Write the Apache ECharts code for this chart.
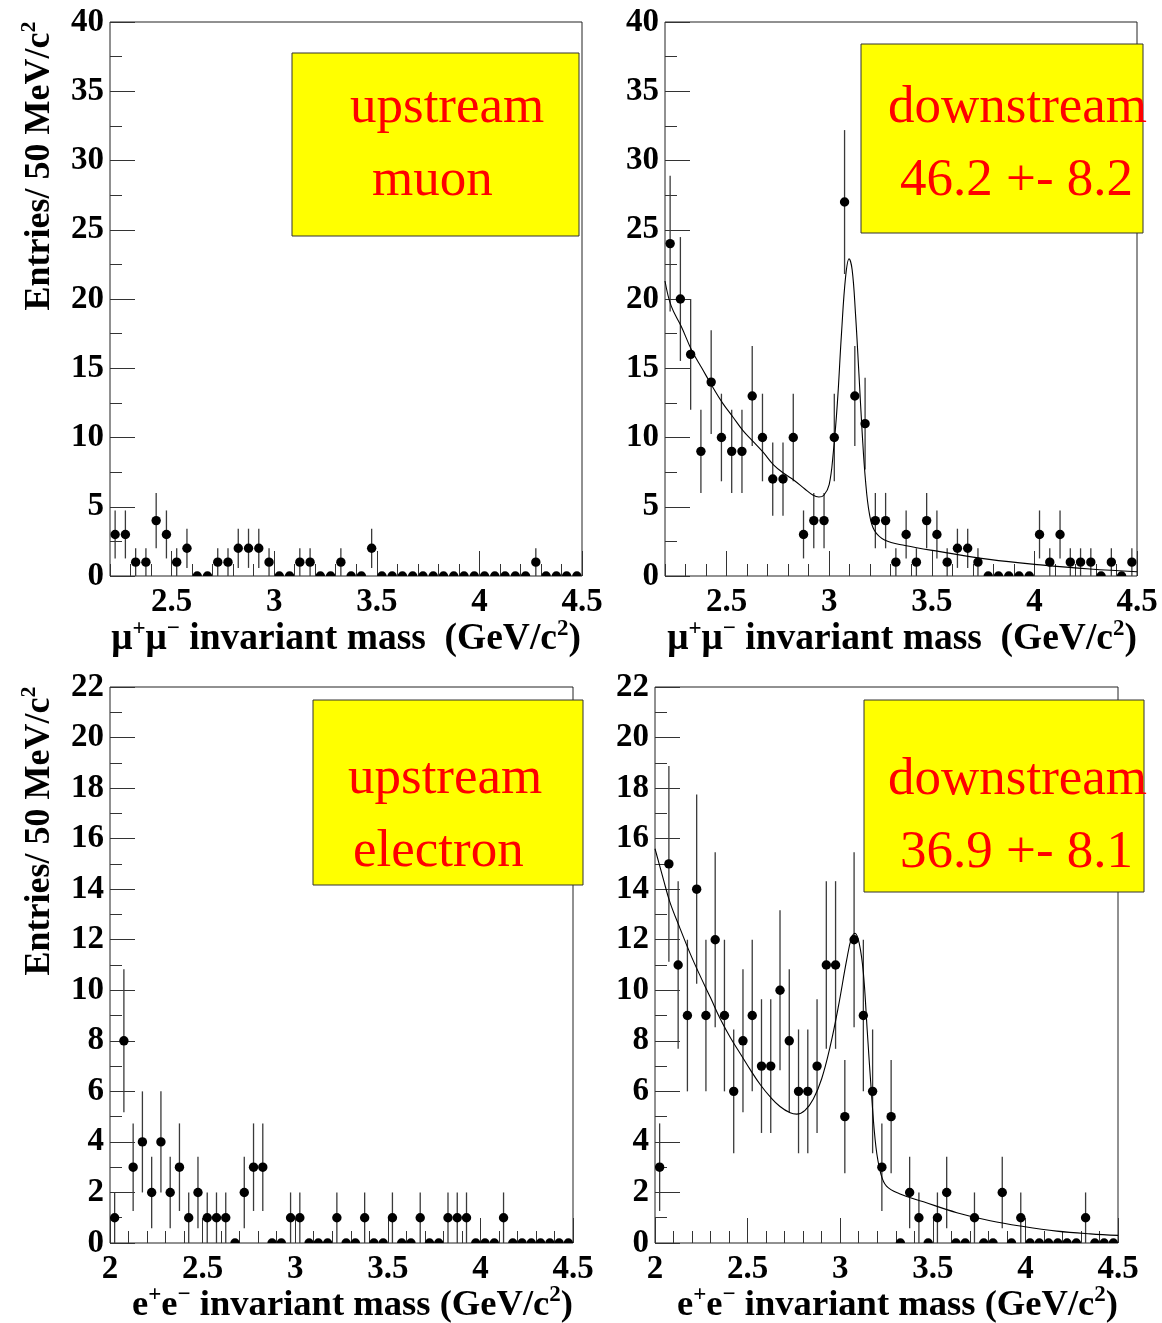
<!DOCTYPE html>
<html>
<head>
<meta charset="utf-8">
<script src="https://cdn.jsdelivr.net/npm/echarts@6/dist/echarts.min.js"></script>
<style>
  html, body { margin: 0; padding: 0; background: #ffffff; }
  #chart { width: 1162px; height: 1323px; }
</style>
</head>
<body>
<div id="chart"></div>
<script>
// Bin centres, 50 MeV/c^2 bins
const muMass = [2.225, 2.275, 2.325, 2.375, 2.425, 2.475, 2.525, 2.575, 2.625, 2.675,
                2.725, 2.775, 2.825, 2.875, 2.925, 2.975, 3.025, 3.075, 3.125, 3.175,
                3.225, 3.275, 3.325, 3.375, 3.425, 3.475, 3.525, 3.575, 3.625, 3.675,
                3.725, 3.775, 3.825, 3.875, 3.925, 3.975, 4.025, 4.075, 4.125, 4.175,
                4.225, 4.275, 4.325, 4.375, 4.425, 4.475];
const eeMass = [2.025, 2.075, 2.125, 2.175, 2.225, 2.275, 2.325, 2.375, 2.425, 2.475,
                2.525, 2.575, 2.625, 2.675, 2.725, 2.775, 2.825, 2.875, 2.925, 2.975,
                3.025, 3.075, 3.125, 3.175, 3.225, 3.275, 3.325, 3.375, 3.425, 3.475,
                3.525, 3.575, 3.625, 3.675, 3.725, 3.775, 3.825, 3.875, 3.925, 3.975,
                4.025, 4.075, 4.125, 4.175, 4.225, 4.275, 4.325, 4.375, 4.425, 4.475];

// Entries per bin
const muUpCounts = [3, 3, 1, 1, 4, 3, 1, 2, 0, 0,
                    1, 1, 2, 2, 2, 1, 0, 0, 1, 1,
                    0, 0, 1, 0, 0, 2, 0, 0, 0, 0,
                    0, 0, 0, 0, 0, 0, 0, 0, 0, 0,
                    0, 1, 0, 0, 0, 0];
const muDownCounts = [24, 20, 16, 9, 14, 10, 9, 9, 13, 10,
                     7, 7, 10, 3, 4, 4, 10, 27, 13, 11,
                     4, 4, 1, 3, 1, 4, 3, 1, 2, 2,
                     1, 0, 0, 0, 0, 0, 3, 1, 3, 1,
                     1, 1, 0, 1, 0, 1];
const eeUpCounts = [1, 8, 3, 4, 2, 4, 2, 3, 1, 2,
                    1, 1, 1, 0, 2, 3, 3, 0, 0, 1,
                    1, 0, 0, 0, 1, 0, 0, 1, 0, 0,
                    1, 0, 0, 1, 0, 0, 1, 1, 1, 0,
                    0, 0, 1, 0, 0, 0, 0, 0, 0, 0];
const eeDownCounts = [3, 15, 11, 9, 14, 9, 12, 9, 6, 8,
                      9, 7, 7, 10, 8, 6, 6, 7, 11, 11,
                      5, 12, 9, 6, 3, 5, 0, 2, 1, 0,
                      1, 2, 0, 0, 1, 0, 0, 2, 0, 1,
                      0, 0, 0, 0, 0, 0, 1, 0, 0, 0];

// Fitted curves (background + J/psi peak)
const muFitMass  = [2.2, 2.23, 2.28, 2.33, 2.38, 2.43, 2.48, 2.53, 2.58, 2.63,
                    2.68, 2.73, 2.78, 2.83, 2.88, 2.92, 2.95, 2.975, 3.0, 3.02,
                    3.04, 3.06, 3.08, 3.097, 3.112, 3.128, 3.145, 3.161, 3.177, 3.196,
                    3.22, 3.27, 3.37, 3.54, 3.78, 4.03, 4.27, 4.5];
const muFitValue = [21.3, 19.5, 18.0, 16.3, 15.0, 13.7, 12.5, 11.5, 10.5, 9.7,
                    8.9, 8.0, 7.4, 6.9, 6.3, 5.85, 5.7, 5.85, 6.6, 8.9,
                    12.5, 17.5, 21.6, 22.9, 22.1, 19.0, 14.6, 10.3, 6.9, 4.5,
                    3.3, 2.6, 2.2, 1.76, 1.2, 0.8, 0.5, 0.31];
const eeFitMass  = [2.0, 2.045, 2.08, 2.135, 2.19, 2.245, 2.3, 2.35, 2.405, 2.46,
                    2.515, 2.57, 2.62, 2.675, 2.73, 2.765, 2.81, 2.855, 2.9, 2.945,
                    2.99, 3.035, 3.062, 3.08, 3.103, 3.125, 3.146, 3.17, 3.193, 3.219,
                    3.25, 3.32, 3.45, 3.63, 3.81, 3.99, 4.17, 4.35, 4.5];
const eeFitValue = [15.6, 14.4, 13.5, 12.45, 11.45, 10.55, 9.7, 8.9, 8.15, 7.5,
                    6.85, 6.25, 5.8, 5.4, 5.15, 5.1, 5.25, 5.7, 6.5, 7.75,
                    9.35, 11.2, 12.1, 12.25, 11.85, 10.7, 8.4, 5.8, 3.8, 2.75,
                    2.25, 1.95, 1.63, 1.2, 0.88, 0.65, 0.47, 0.36, 0.3];

// Axis tick labels
const muTickLabels = [2.5, 3, 3.5, 4, 4.5];
const eeTickLabels = [2, 2.5, 3, 3.5, 4, 4.5];

// Box captions
const captions = [
  ['upstream', 'muon'],
  ['downstream', '46.2 +- 8.2'],
  ['upstream', 'electron'],
  ['downstream', '36.9 +- 8.1']
];

const SERIF = '"Liberation Serif", "DejaVu Serif", serif';
const TICK_COLOR = '#333';

const panels = [
  { grid: { left: 110, top: 22, width: 472, height: 554 }, xmin: 2.2, xmax: 4.5, ticks: muTickLabels, ymax: 40, ystep: 5 },
  { grid: { left: 665, top: 22, width: 472, height: 554 }, xmin: 2.2, xmax: 4.5, ticks: muTickLabels, ymax: 40, ystep: 5 },
  { grid: { left: 110, top: 687, width: 463, height: 556 }, xmin: 2.0, xmax: 4.5, ticks: eeTickLabels, ymax: 22, ystep: 2 },
  { grid: { left: 655, top: 687, width: 463, height: 556 }, xmin: 2.0, xmax: 4.5, ticks: eeTickLabels, ymax: 22, ystep: 2 }
];

const histos = [
  { mass: muMass, counts: muUpCounts },
  { mass: muMass, counts: muDownCounts, fitX: muFitMass, fitY: muFitValue },
  { mass: eeMass, counts: eeUpCounts },
  { mass: eeMass, counts: eeDownCounts, fitX: eeFitMass, fitY: eeFitValue }
];

const labelFont = { fontFamily: SERIF, fontWeight: 'bold', fontSize: 33, color: '#000' };

const grids = [], xAxes = [], yAxes = [], series = [];
panels.forEach((p, i) => {
  grids.push(Object.assign({ show: true, borderColor: '#222', borderWidth: 1, backgroundColor: 'transparent', containLabel: false }, p.grid));
  // major ticks + labels
  xAxes.push({
    gridIndex: i, type: 'value', position: 'bottom', min: p.xmin, max: p.xmax,
    axisLine: { show: false }, splitLine: { show: false },
    axisTick: { show: true, inside: true, length: 25, customValues: p.ticks, lineStyle: { color: TICK_COLOR, width: 1 } },
    axisLabel: Object.assign({ show: true, margin: 10, customValues: p.ticks }, labelFont)
  });
  // minor ticks every 0.1
  xAxes.push({
    gridIndex: i, type: 'value', position: 'bottom', min: p.xmin, max: p.xmax, interval: 0.1,
    axisLine: { show: false }, splitLine: { show: false }, axisLabel: { show: false },
    axisTick: { show: true, inside: true, length: 12, lineStyle: { color: TICK_COLOR, width: 1 } }
  });
  yAxes.push({
    gridIndex: i, type: 'value', min: 0, max: p.ymax, interval: p.ystep,
    axisLine: { show: false }, splitLine: { show: false },
    axisTick: { show: true, inside: true, length: 25, lineStyle: { color: TICK_COLOR, width: 1 } },
    minorTick: { show: true, splitNumber: 2, length: 12, lineStyle: { color: TICK_COLOR, width: 1 } },
    axisLabel: Object.assign({ margin: 6 }, labelFont)
  });

  const h = histos[i];
  const pts = h.mass.map((m, k) => [m, h.counts[k]]);
  // Markers with Poisson error bars, clipped to the frame
  series.push({
    type: 'custom', xAxisIndex: 2 * i, yAxisIndex: i, data: pts, silent: true, clip: true,
    renderItem: (params, api) => {
      const m = api.value(0), n = api.value(1);
      const c = api.coord([m, n]);
      const children = [];
      if (n > 0) {
        const e = Math.sqrt(n);
        const a = api.coord([m, n + e]);
        const b = api.coord([m, n - e]);
        children.push({ type: 'line', shape: { x1: a[0], y1: a[1], x2: b[0], y2: b[1] },
                        style: { stroke: '#3a3a3a', lineWidth: 1.3 } });
      }
      children.push({ type: 'circle', shape: { cx: c[0], cy: c[1], r: 4.7 }, style: { fill: '#000' } });
      return { type: 'group', children: children };
    }
  });
  if (h.fitX) {
    series.push({
      type: 'line', xAxisIndex: 2 * i, yAxisIndex: i, smooth: 0.4, showSymbol: false, silent: true,
      data: h.fitX.map((m, k) => [m, h.fitY[k]]),
      lineStyle: { color: '#000', width: 1.1 }, clip: true
    });
  }
});

// Caption boxes
const boxes = [
  { x: 292, y: 53, w: 287, h: 183, t1: [350, 126], t2: [372, 199] },
  { x: 861, y: 44, w: 282, h: 189, t1: [888, 126], t2: [900, 199] },
  { x: 313, y: 700, w: 270, h: 185, t1: [348, 797], t2: [353, 870] },
  { x: 864, y: 700, w: 280, h: 192, t1: [888, 798], t2: [900, 871] }
];
const graphics = [];
boxes.forEach((b, i) => {
  graphics.push({
    type: 'rect', z: 100, shape: { x: b.x, y: b.y, width: b.w, height: b.h },
    style: { fill: '#ffff00', stroke: '#333', lineWidth: 1 }
  });
  [b.t1, b.t2].forEach((pos, j) => {
    graphics.push({
      type: 'text', z: 101, x: pos[0], y: pos[1] - 18,
      style: { text: captions[i][j], fill: '#ff0000', font: '53px ' + SERIF, align: 'left', verticalAlign: 'middle' }
    });
  });
});

// Axis titles with superscripts
function titleRich(size) {
  return {
    b: { fontFamily: SERIF, fontWeight: 'bold', fontSize: size, lineHeight: size + 4, verticalAlign: 'bottom', fill: '#000' },
    s: { fontFamily: SERIF, fontWeight: 'bold', fontSize: Math.round(size * 0.62), lineHeight: Math.round(size * 0.62), verticalAlign: 'top', fill: '#000' }
  };
}
const muTitle = '{b|μ}{s|+}{b|μ}{s|−}{b| invariant mass  (GeV/c}{s|2}{b|)}';
const eeTitle = '{b|e}{s|+}{b|e}{s|−}{b| invariant mass (GeV/c}{s|2}{b|)}';
const yTitle = '{b|Entries/ 50 MeV/c}{s|2}';
[[muTitle, 581, 638, 37.5], [muTitle, 1137, 638, 37.5], [eeTitle, 573, 1304, 36.6], [eeTitle, 1118, 1304, 36.6]].forEach(t => {
  graphics.push({ type: 'text', z: 50, x: t[1], y: t[2],
    style: { text: t[0], rich: titleRich(t[3]), align: 'right', verticalAlign: 'middle' } });
});
[[38, 166], [38, 831]].forEach(c => {
  graphics.push({ type: 'text', z: 50, x: c[0], y: c[1], rotation: Math.PI / 2,
    style: { text: yTitle, rich: titleRich(36), align: 'center', verticalAlign: 'middle' } });
});

const chart = echarts.init(document.getElementById('chart'), null, { renderer: 'canvas' });
chart.setOption({
  animation: false,
  backgroundColor: '#ffffff',
  grid: grids,
  xAxis: xAxes,
  yAxis: yAxes,
  series: series,
  graphic: graphics
});
</script>
</body>
</html>
